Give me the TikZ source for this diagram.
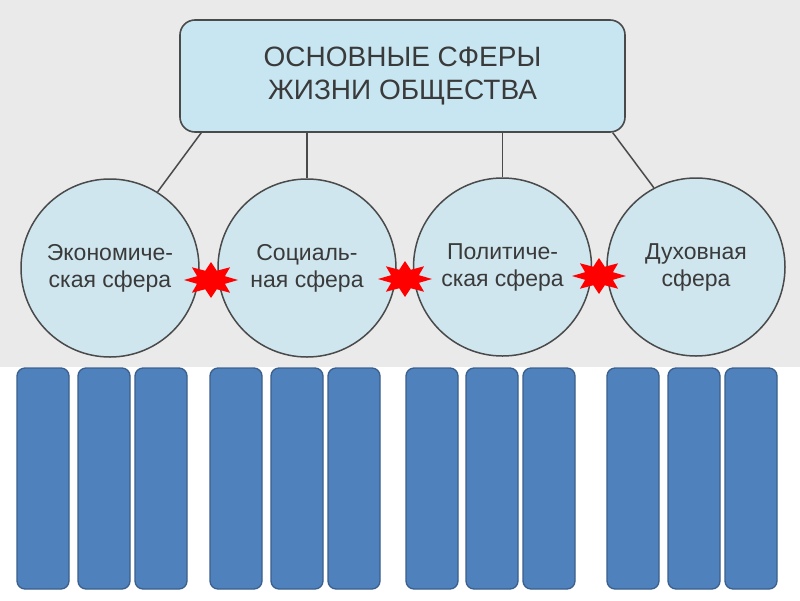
\documentclass[tikz,border=0pt]{standalone}
\usepackage{fontspec}
\setmainfont{Liberation Sans}
\usetikzlibrary{shapes.geometric,calc}
\definecolor{bggray}{HTML}{EAEAEA}
\definecolor{boxfill}{HTML}{C8E6F2}
\definecolor{circfill}{HTML}{CFE6EE}
\definecolor{lineg}{HTML}{4A4A4A}
\definecolor{txt}{HTML}{3A3A3A}
\definecolor{barfill}{HTML}{4F81BD}
\definecolor{bardraw}{HTML}{3A5F8C}
\begin{document}
\begin{tikzpicture}[x=1pt,y=-1pt,
  topbox/.style={draw=lineg, line width=1.6pt, fill=boxfill, rounded corners=15pt,
    minimum width=445pt, minimum height=112pt, inner sep=0pt, align=center,
    text=txt, font=\fontsize{28}{33}\selectfont},
  sphere/.style={circle, draw=lineg, line width=1.5pt, fill=circfill,
    minimum size=178pt, inner sep=0pt, align=center, text=txt,
    font=\fontsize{23}{27}\selectfont},
  conn/.style={draw=lineg, line width=1.5pt},
  burst/.style={star, star points=8, star point ratio=1.8, fill=red, draw=none,
    minimum size=36pt, inner sep=0pt, xscale=1.5, transform shape},
  bar/.style={draw=bardraw, line width=1.3pt, fill=barfill, rounded corners=8pt,
    minimum width=52pt, minimum height=221pt, inner sep=0pt}
]
\useasboundingbox (0,0) rectangle (800,600);
\fill[white] (0,0) rectangle (800,600);
\fill[bggray] (0,0) rectangle (800,367);

\node[topbox] (top) at (402.5,76) {ОСНОВНЫЕ СФЕРЫ\\ЖИЗНИ ОБЩЕСТВА};

\node[sphere] (c1) at (110,268) {Экономиче-\\ская сфера};
\node[sphere] (c2) at (307,268) {Социаль-\\ная сфера};
\node[sphere] (c3) at (502.5,267) {Политиче-\\ская сфера};
\node[sphere] (c4) at (696,267) {Духовная\\сфера};

\draw[conn] ($(top.south west)+(22,0)$) -- (c1.58);
\draw[conn] (c2.north |- top.south) -- (c2.north);
\draw[conn] (c3.north |- top.south) -- (c3.north);
\draw[conn] ($(top.south east)+(-13,0)$) -- (c4.118);

\node[burst] (s1) at (211,280) {};
\node[burst] (s2) at (405,279) {};
\node[burst] (s3) at (599,276) {};

\foreach \cx [count=\i] in {43,104,161,236,297,354,432,492,549,633,694,751}
  \node[bar] (b\i) at (\cx,478.5) {};
\end{tikzpicture}
\end{document}
